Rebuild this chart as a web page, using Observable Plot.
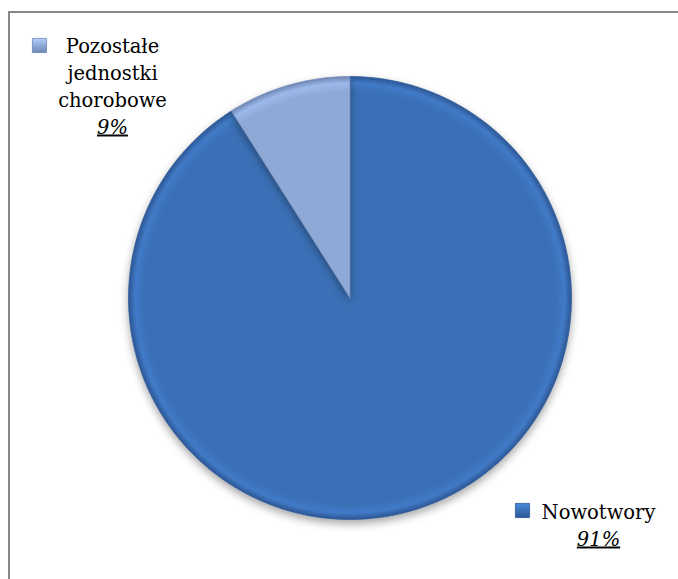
<!DOCTYPE html>
<html><head><meta charset="utf-8">
<script src="https://cdn.jsdelivr.net/npm/d3@7"></script>
<script src="https://cdn.jsdelivr.net/npm/@observablehq/plot@0.6"></script>
<style>
html,body{margin:0;padding:0;background:#fff;overflow:hidden;}
#wrap{position:relative;width:678px;height:579px;overflow:hidden;}
#frame{position:absolute;left:8px;top:11px;width:720px;height:620px;border-left:2px solid #878787;border-top:2px solid #878787;box-sizing:border-box;}
#chart{position:absolute;left:0;top:0;}
</style></head><body><div id="wrap"><div id="frame"></div><div id="chart"></div></div>
<script>
const categories = ["Nowotwory", "Pozostałe jednostki chorobowe"];
const shares = [91, 9];
const labelLines = [["Nowotwory"], ["Pozostałe", "jednostki", "chorobowe"]];
const percentLabels = ["91%", "9%"];
const colors = ["#3b70b6", "#8fa9d6"];
const edgeColors = ["#2c5794", "#6f86b3"];

// layout (pixels)
const W = 678, H = 579, cx = 349.5, cy = 297.5, R = 221.5;
const ux = px => (px - cx) / R, uy = py => (cy - py) / R;
const labelPos = [
  {x: 598, base: 518, marker: [522, 510]},
  {x: 112, base: 52, marker: [39, 45]}
];
const lineStep = 27, fs = 19.5;
const serif = "DejaVu Serif";

const data = categories.map((c, i) => ({cat: c, share: shares[i], i}));
const arcs = d3.pie().sort(null).value(d => d.share).startAngle(0).endAngle(2 * Math.PI)(data);

const marks = [];
arcs.forEach((a, i) => {
  const pts = [{x: 0, y: 0}];
  const n = Math.max(4, Math.ceil((a.endAngle - a.startAngle) / 0.01));
  for (let k = 0; k <= n; k++) {
    const t = a.startAngle + (a.endAngle - a.startAngle) * k / n;
    pts.push({x: Math.sin(t), y: Math.cos(t)});
  }
  pts.push({x: 0, y: 0});
  marks.push(Plot.line(pts, {x: "x", y: "y", fill: `url(#grad${i})`, stroke: edgeColors[i], strokeWidth: 1, strokeOpacity: 0.7, curve: "linear"}));
});

const textRows = [];
const pctRows = [];
const markerRows = [];
data.forEach((d, i) => {
  const lp = labelPos[i];
  labelLines[i].forEach((t, k) => textRows.push({x: ux(lp.x), y: uy(lp.base + k * lineStep - 0.32 * fs), t}));
  pctRows.push({x: ux(lp.x), y: uy(lp.base + labelLines[i].length * lineStep - 0.32 * fs), t: percentLabels[i]});
  markerRows.push({x: ux(lp.marker[0]), y: uy(lp.marker[1]), i});
});

marks.push(Plot.text(textRows, {x: "x", y: "y", text: "t", fontSize: fs, fontFamily: serif, fill: "#000", textAnchor: "middle"}));
marks.push(Plot.text(pctRows, {x: "x", y: "y", text: "t", fontSize: fs, fontFamily: serif, fontStyle: "italic", fill: "#000", textAnchor: "middle"}));
marks.push(Plot.dot(markerRows, {x: "x", y: "y", symbol: "square", r: 8, fill: d => `url(#mk${d.i})`, stroke: d => edgeColors[d.i], strokeWidth: 0.8}));

const svg = Plot.plot({
  width: W, height: H, margin: 0,
  style: {background: "transparent", overflow: "visible", fontFamily: serif},
  x: {domain: [-1, 1], range: [cx - R, cx + R], axis: null},
  y: {domain: [-1, 1], range: [cy + R, cy - R], axis: null},
  marks
});

const s = d3.select(svg);
const defs = s.insert("defs", ":first-child");
const f = defs.append("filter").attr("id", "shadow").attr("x", "-20%").attr("y", "-20%").attr("width", "140%").attr("height", "140%");
f.append("feDropShadow").attr("dx", 0).attr("dy", 4).attr("stdDeviation", 4).attr("flood-color", "#000").attr("flood-opacity", 0.35);
colors.forEach((c, i) => {
  const g = defs.append("radialGradient").attr("id", `grad${i}`).attr("gradientUnits", "userSpaceOnUse")
    .attr("cx", cx).attr("cy", cy).attr("r", R);
  g.append("stop").attr("offset", "0%").attr("stop-color", c);
  g.append("stop").attr("offset", "93%").attr("stop-color", c);
  g.append("stop").attr("offset", "97%").attr("stop-color", d3.color(c).brighter(0.25));
  g.append("stop").attr("offset", "100%").attr("stop-color", edgeColors[i]);
  const m = defs.append("linearGradient").attr("id", `mk${i}`).attr("x1", 0).attr("y1", 0).attr("x2", 0).attr("y2", 1);
  m.append("stop").attr("offset", "0%").attr("stop-color", d3.color(c).brighter(0.6));
  m.append("stop").attr("offset", "50%").attr("stop-color", c);
  m.append("stop").attr("offset", "100%").attr("stop-color", edgeColors[i]);
});
s.selectAll("g[aria-label=line]").attr("filter", "url(#shadow)");
s.selectAll("text").filter(function() { return /%$/.test(this.textContent); }).attr("text-decoration", "underline");

document.getElementById("chart").appendChild(svg);
</script>
</body></html>
